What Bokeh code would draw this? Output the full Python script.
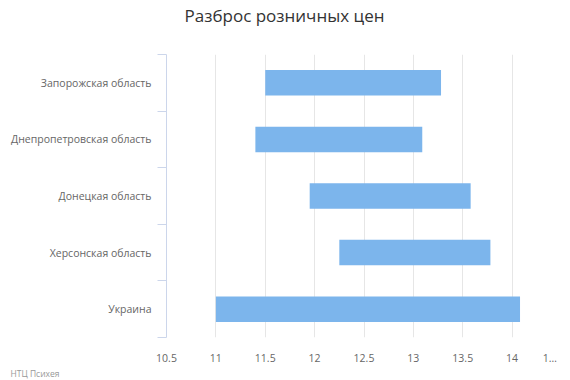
from bokeh.plotting import figure
from bokeh.models import (Range1d, LinearAxis, FixedTicker, ColumnDataSource, Grid, Title)
from bokeh.embed import file_html
from bokeh.resources import INLINE

# ---- data ----
categories = ["Запорожская область", "Днепропетровская область", "Донецкая область",
              "Херсонская область", "Украина"]
low = [11.5, 11.4, 11.95, 12.25, 11.0]
high = [13.28, 13.09, 13.58, 13.78, 14.08]
x_ticks = [10.5, 11, 11.5, 12, 12.5, 13, 13.5, 14, 14.5]
x_labels = ["10.5", "11", "11.5", "12", "12.5", "13", "13.5", "14", "1…"]
title_text = "Разброс розничных цен"
credits_text = "НТЦ Психея"

FONT = "Open Sans"
W, H = 570, 380
FRAME_L, FRAME_R = 166, 561
n = len(categories)
# first category at the top: category i occupies band [n-1-i, n-i]
ypos = [n - 0.5 - i for i in range(n)]

p = figure(width=W, height=H, output_backend="svg", toolbar_location=None,
           y_range=Range1d(0, n), x_range=Range1d(x_ticks[0], x_ticks[-1]),
           x_axis_location=None, y_axis_location=None,
           min_border_left=FRAME_L, min_border_right=W - FRAME_R,
           min_border_top=45, min_border_bottom=35)
p.outline_line_color = None
p.grid.visible = False
p.title.visible = False
p.background_fill_color = "white"
p.border_fill_color = "white"

src = ColumnDataSource(dict(y=ypos, low=low, high=high, cat=categories))
p.hbar(y="y", left="low", right="high", height=0.45, source=src,
       fill_color="#7cb5ec", line_color=None)

# x axis (values); the last label is truncated in the original and sits left of its tick
overrides = {t: l for t, l in zip(x_ticks, x_labels)}
overrides[x_ticks[-1]] = x_labels[-1] + "\u00a0" * 5
xaxis = LinearAxis(ticker=FixedTicker(ticks=x_ticks), major_label_overrides=overrides)
xaxis.axis_line_color = None
xaxis.major_tick_line_color = None
xaxis.minor_tick_line_color = None
xaxis.major_label_text_color = "#666666"
xaxis.major_label_text_font = FONT
xaxis.major_label_text_font_size = "10.5px"
xaxis.major_label_standoff = 7
p.add_layout(xaxis, "below")
p.add_layout(Grid(dimension=0, axis=xaxis, grid_line_color="#e6e6e6"), "center")

# credits below the axis
p.add_layout(Title(text=credits_text, align="left", offset=10 - FRAME_L, text_font=FONT,
                   text_font_size="8.5px", text_color="#999999", text_font_style="normal",
                   vertical_align="top", standoff=0), "below")

# category axis: boundary ticks + line
tick_axis = LinearAxis(ticker=FixedTicker(ticks=list(range(n + 1))),
                       major_label_overrides={i: "" for i in range(n + 1)})
tick_axis.axis_line_color = "#ccd6eb"
tick_axis.major_tick_line_color = "#ccd6eb"
tick_axis.major_tick_out = 9
tick_axis.major_tick_in = 0
tick_axis.minor_tick_line_color = None
tick_axis.major_label_standoff = 0
tick_axis.major_label_text_font_size = "1px"
p.add_layout(tick_axis, "left")

# category labels at band centres
cat_axis = LinearAxis(ticker=FixedTicker(ticks=ypos),
                      major_label_overrides={y: c for y, c in zip(ypos, categories)})
cat_axis.axis_line_color = None
cat_axis.major_tick_line_color = None
cat_axis.minor_tick_line_color = None
cat_axis.major_label_standoff = 0
cat_axis.major_label_text_color = "#666666"
cat_axis.major_label_text_font = FONT
cat_axis.major_label_text_font_size = "10.5px"
p.add_layout(cat_axis, "left")

# chart title, centred over the whole chart (drawn as a single label above the frame)
title_x = x_ticks[0] + (W / 2 - 1 - FRAME_L) / (FRAME_R - FRAME_L) * (x_ticks[-1] - x_ticks[0])
title_axis = LinearAxis(ticker=FixedTicker(ticks=[title_x]),
                        major_label_overrides={title_x: title_text})
title_axis.axis_line_color = None
title_axis.major_tick_line_color = None
title_axis.minor_tick_line_color = None
title_axis.major_label_standoff = 22
title_axis.major_label_text_font = FONT
title_axis.major_label_text_font_size = "17px"
title_axis.major_label_text_color = "#333333"
p.add_layout(title_axis, "above")

open("out.html", "w").write(file_html(p, INLINE))
